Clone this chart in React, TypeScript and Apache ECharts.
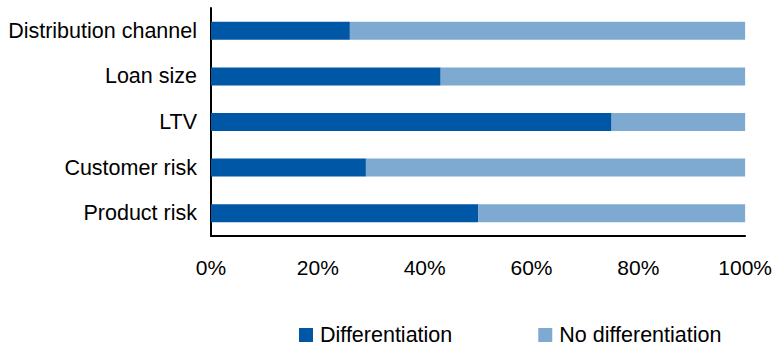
import React, { useEffect, useRef } from "react";
import * as echarts from "echarts";

const categories = ["Distribution channel", "Loan size", "LTV", "Customer risk", "Product risk"];
const differentiation = [26, 43, 75, 29, 50];
const noDifferentiation = [74, 57, 25, 71, 50];
const seriesNames = ["Differentiation", "No differentiation"];

export default function App() {
  const ref = useRef<HTMLDivElement>(null);
  useEffect(() => {
    if (!ref.current) return;
    const chart = echarts.init(ref.current, undefined, { renderer: "svg" });
    const font = "'Liberation Sans', Arial, sans-serif";
    chart.setOption({
      animation: false,
      textStyle: { fontFamily: font },
      grid: { left: 211, right: 27, top: 8, bottom: 111, containLabel: false },
      legend: {
        data: seriesNames,
        top: 324,
        left: 299,
        itemWidth: 14,
        itemHeight: 14,
        itemGap: 86,
        icon: "rect",
        padding: 0,
        textStyle: { fontSize: 21.5, color: "#000", fontFamily: font, padding: [0, 0, 0, 2] },
      },
      xAxis: {
        type: "value",
        min: 0,
        max: 100,
        interval: 20,
        axisLine: { show: true, lineStyle: { color: "#000", width: 2 } },
        axisTick: { show: false },
        splitLine: { show: false },
        axisLabel: { formatter: "{value}%", fontSize: 21, color: "#000", margin: 21, fontFamily: font },
      },
      yAxis: {
        type: "category",
        data: categories,
        inverse: true,
        axisLine: { show: true, lineStyle: { color: "#000", width: 2 } },
        axisTick: { show: false },
        axisLabel: { fontSize: 21.5, color: "#000", margin: 14, fontFamily: font },
      },
      series: [
        {
          name: seriesNames[0],
          type: "bar",
          stack: "total",
          barWidth: 18,
          data: differentiation,
          itemStyle: { color: "#0057A6" },
        },
        {
          name: seriesNames[1],
          type: "bar",
          stack: "total",
          barWidth: 18,
          data: noDifferentiation,
          itemStyle: { color: "#7EAAD2" },
        },
      ],
    });
    return () => chart.dispose();
  }, []);
  return <div ref={ref} style={{ width: 775, height: 347, position: "absolute", left: 0, top: 0 }} />;
}
